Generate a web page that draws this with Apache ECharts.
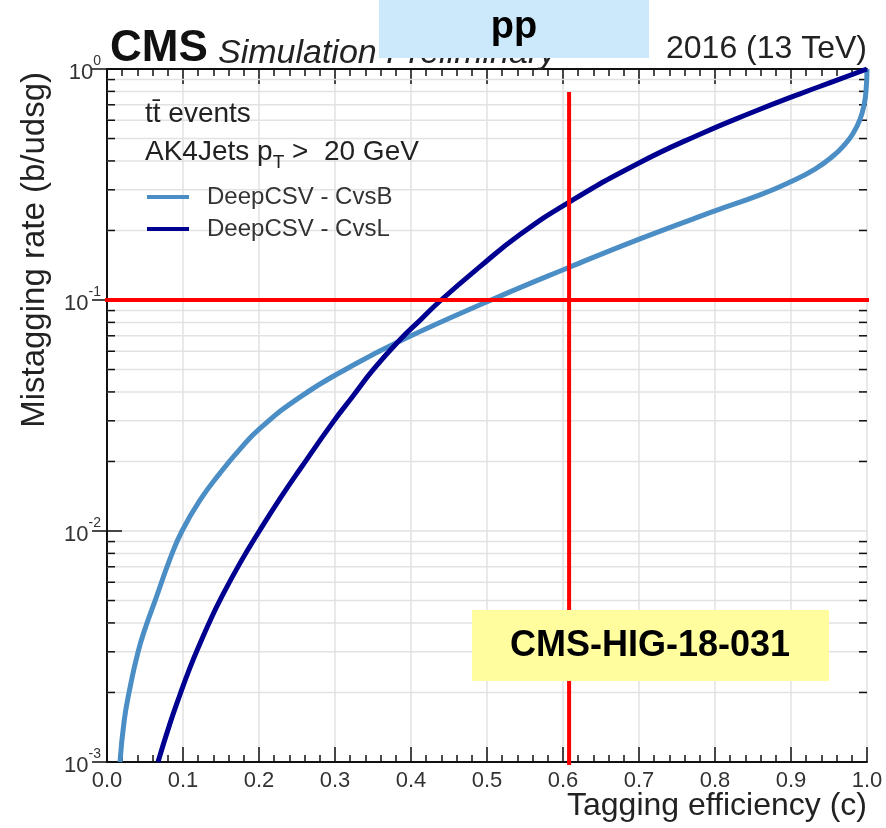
<!DOCTYPE html>
<html><head><meta charset="utf-8">
<script src="https://cdn.jsdelivr.net/npm/echarts@6/dist/echarts.min.js"></script>
<style>html,body{margin:0;padding:0;background:#fff}#c{width:886px;height:828px}</style>
</head><body><div id="c"></div>
<script>
// Tagging efficiency (c) and mistagging rate (b/udsg)
const cvsbEff = [0.0171,0.0225,0.0290,0.0408,0.0513,0.0632,0.0829,0.0987,0.1224,0.1487,0.1750,0.2013,0.2539,0.3197,0.3855,0.5039,0.6092,0.7013,0.8000,0.8592,0.8987,0.9316,0.9553,0.9711,0.9816,0.9908,0.9961,0.9987,1.0000];
const cvsbMis = [0.00100,0.00150,0.00200,0.00299,0.00388,0.00498,0.00757,0.0100,0.0136,0.0178,0.0226,0.0278,0.0380,0.0513,0.0665,0.0995,0.139,0.184,0.243,0.285,0.324,0.369,0.420,0.473,0.526,0.605,0.699,0.803,1.000];
const cvslEff = [0.0671,0.0829,0.0961,0.1092,0.1224,0.1355,0.1487,0.1750,0.2013,0.2276,0.2539,0.2974,0.3237,0.3500,0.3855,0.4118,0.4382,0.4908,0.5434,0.6079,0.7000,0.7803,0.8460,0.9118,0.9579,1.0000];
const cvslMis = [0.00100,0.00147,0.00196,0.00256,0.00326,0.00408,0.00502,0.00726,0.0101,0.0138,0.0185,0.0296,0.0384,0.0498,0.0673,0.0816,0.0990,0.1395,0.192,0.265,0.392,0.522,0.643,0.781,0.888,1.000];
const seriesNames = ['DeepCSV - CvsB','DeepCSV - CvsL'];
const xTickLabels = ['0.0','0.1','0.2','0.3','0.4','0.5','0.6','0.7','0.8','0.9','1.0'];
const yDecades = [0.001,0.01,0.1];
const yMinorMult = [2,3,4,5,6,7,8,9];
// red reference lines
const refVEff = [0.608,0.608], refVMis = [0.795,0.00097];
const refHEff = [-0.003,1.008], refHMis = [0.1,0.1];

const minorVals = [];
yDecades.forEach(d => yMinorMult.forEach(m => minorVals.push([0, d*m])));
const zip = (a,b) => a.map((v,i)=>[v,b[i]]);

const FONT = 'Liberation Sans, Arial, sans-serif';
const axLine = {lineStyle:{color:'#111',width:2}};
const chart = echarts.init(document.getElementById('c'));
chart.setOption({
  animation:false,
  backgroundColor:'#fff',
  grid:{left:107,right:19,top:69,bottom:66},
  legend:{data:seriesNames, orient:'vertical', left:142, top:180, itemWidth:42, itemHeight:4, itemGap:8, icon:'rect',
    textStyle:{fontSize:24, fontFamily:FONT, color:'#333', padding:[0,0,0,13], lineHeight:24}},
  xAxis:[
    {type:'value', min:0, max:1, interval:0.1, axisLine:axLine,
     axisTick:{inside:true,length:15,lineStyle:{color:'#111',width:1.5}},
     minorTick:{show:true,splitNumber:5,length:7,lineStyle:{color:'#111',width:1.5}},
     axisLabel:{formatter:(v)=>xTickLabels[Math.round(v*10)], fontSize:22, color:'#333', fontFamily:FONT, margin:8},
     splitLine:{show:true,lineStyle:{color:'#e2e2e2',width:1.5}}},
    {type:'value', position:'top', min:0, max:1, interval:0.1, axisLine:axLine,
     axisTick:{inside:true,length:15,lineStyle:{color:'#111',width:1.5}},
     minorTick:{show:true,splitNumber:5,length:7,lineStyle:{color:'#111',width:1.5}},
     axisLabel:{show:false}, splitLine:{show:false}}
  ],
  yAxis:[
    {type:'log', logBase:10, min:0.001, max:1, axisLine:axLine,
     axisTick:{inside:true,length:15,lineStyle:{color:'#111',width:1.5}},
     axisLabel:{margin:6, formatter:(v)=>{const e=Math.round(Math.log10(v)); return '{b|10}{s|'+e+'}';},
       rich:{b:{fontSize:22,color:'#333',fontFamily:FONT,verticalAlign:'bottom',lineHeight:30},
             s:{fontSize:14,color:'#333',fontFamily:FONT,verticalAlign:'top',lineHeight:16}}},
     splitLine:{show:true,lineStyle:{color:'#e2e2e2',width:1.5}}},
    {type:'log', logBase:10, min:0.001, max:1, position:'right', axisLine:axLine,
     axisTick:{inside:true,length:15,lineStyle:{color:'#111',width:1.5}},
     axisLabel:{show:false}, splitLine:{show:false}}
  ],
  series:[
    {type:'custom', name:'minor', silent:true, z:1, data:minorVals,
     renderItem:(params, api)=>{
       const cs = params.coordSys; const y = api.coord([0, api.value(1)])[1];
       return {type:'group', children:[
         {type:'line', shape:{x1:cs.x,y1:y,x2:cs.x+cs.width,y2:y}, style:{stroke:'#e2e2e2',lineWidth:1.5}},
         {type:'line', shape:{x1:cs.x,y1:y,x2:cs.x+8,y2:y}, style:{stroke:'#111',lineWidth:1.5}},
         {type:'line', shape:{x1:cs.x+cs.width-8,y1:y,x2:cs.x+cs.width,y2:y}, style:{stroke:'#111',lineWidth:1.5}}
       ]};
     }},
    {type:'line', name:seriesNames[0], data:zip(cvsbEff,cvsbMis), showSymbol:false, symbol:'none', smooth:0.5, z:3,
     color:'#4b8ec6', lineStyle:{color:'#4b8ec6',width:5}},
    {type:'line', name:seriesNames[1], data:zip(cvslEff,cvslMis), showSymbol:false, symbol:'none', smooth:0.5, z:4,
     color:'#000090', lineStyle:{color:'#000090',width:5}},
    {type:'line', name:'refV', data:zip(refVEff,refVMis), symbol:'none', clip:false, silent:true, z:6,
     lineStyle:{color:'#ff0000',width:4}},
    {type:'line', name:'refH', data:zip(refHEff,refHMis), symbol:'none', clip:false, silent:true, z:6,
     lineStyle:{color:'#ff0000',width:4}}
  ],
  graphic:[
    {type:'text', x:110, y:49, z:50, style:{text:'CMS', fontSize:44, fontWeight:'bold', fontFamily:FONT, fill:'#111', align:'left', verticalAlign:'middle'}},
    {type:'text', x:218, y:54, z:50, style:{text:'Simulation Preliminary', fontSize:34, fontStyle:'italic', fontFamily:FONT, fill:'#222', align:'left', verticalAlign:'middle'}},
    {type:'text', x:867, y:49, z:50, style:{text:'2016 (13 TeV)', fontSize:32, fontFamily:FONT, fill:'#222', align:'right', verticalAlign:'middle'}},
    {type:'rect', z:60, shape:{x:379,y:0,width:270,height:58}, style:{fill:'#cce9fc'}},
    {type:'text', x:514, y:28, z:61, style:{text:'pp', fontSize:38, fontWeight:'bold', fontFamily:FONT, fill:'#000', align:'center', verticalAlign:'middle'}},
    {type:'rect', z:60, shape:{x:472,y:610,width:357,height:71}, style:{fill:'#fffd9e'}},
    {type:'text', x:650, y:646, z:61, style:{text:'CMS-HIG-18-031', fontSize:36, fontWeight:'bold', fontFamily:FONT, fill:'#000', align:'center', verticalAlign:'middle'}},
    {type:'text', x:867, y:806, z:50, style:{text:'Tagging efficiency (c)', fontSize:32, fontFamily:FONT, fill:'#222', align:'right', verticalAlign:'middle'}},
    {type:'text', x:35, y:72, rotation:Math.PI/2, z:50, style:{text:'Mistagging rate (b/udsg)', fontSize:33, fontFamily:FONT, fill:'#222', align:'right', verticalAlign:'middle'}},
    {type:'text', x:145, y:114, z:50, style:{text:'tt\u0304 events', fontSize:28, fontFamily:FONT, fill:'#222', align:'left', verticalAlign:'middle'}},
    {type:'text', x:145, y:152, z:50, style:{text:'{n|AK4Jets p}{s|T}{n| >  20 GeV}', align:'left', verticalAlign:'middle',
      rich:{n:{fontSize:28,fontFamily:FONT,fill:'#222',verticalAlign:'middle',lineHeight:40},
            s:{fontSize:19,fontFamily:FONT,fill:'#222',verticalAlign:'bottom',lineHeight:24}}}}
  ]
});
</script></body></html>
